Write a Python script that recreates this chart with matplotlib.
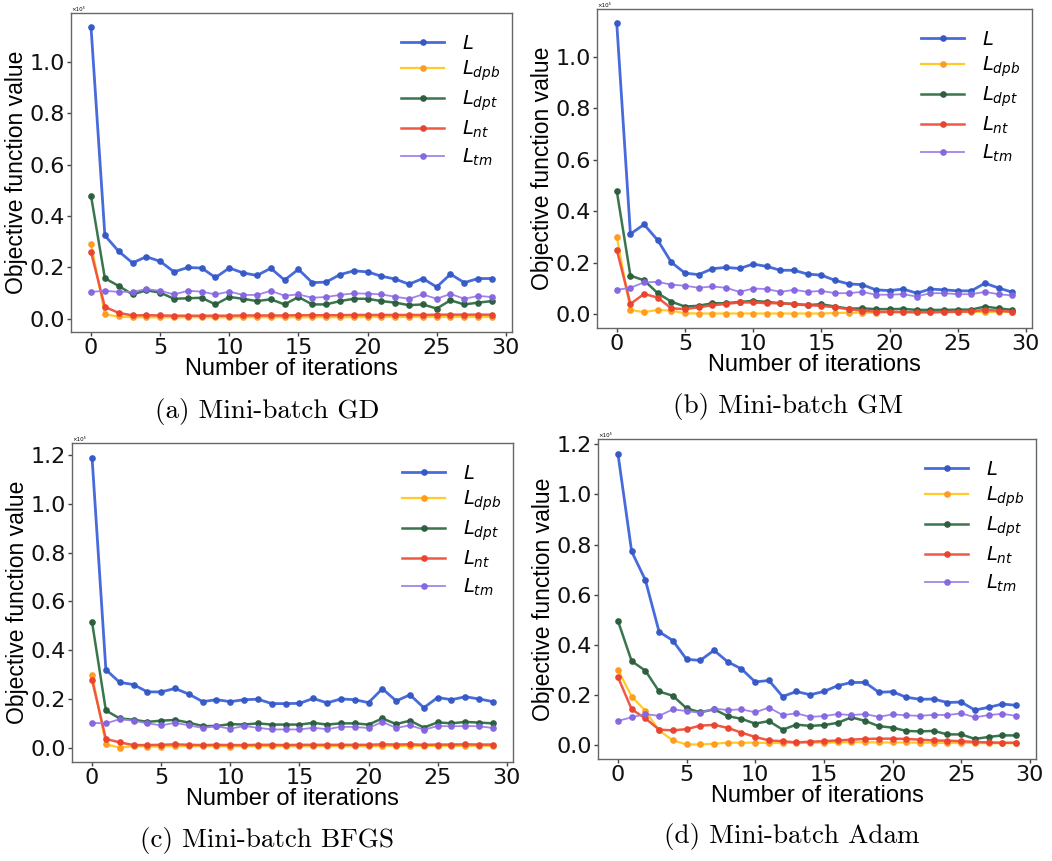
import matplotlib
matplotlib.use("Agg")
import matplotlib.pyplot as plt
import numpy as np

iterations = list(range(30))
series_names = [r"$L$", r"$L_{dpb}$", r"$L_{dpt}$", r"$L_{nt}$", r"$L_{tm}$"]
captions = ["(a) Mini-batch GD", "(b) Mini-batch GM", "(c) Mini-batch BFGS", "(d) Mini-batch Adam"]

# (a) Mini-batch GD
gd_L = [1.135, 0.324, 0.262, 0.217, 0.241, 0.223, 0.182, 0.199, 0.197, 0.160,
        0.197, 0.178, 0.168, 0.196, 0.150, 0.192, 0.140, 0.142, 0.171, 0.186,
        0.182, 0.165, 0.154, 0.134, 0.156, 0.123, 0.173, 0.140, 0.156, 0.156]
gd_dpb = [0.291, 0.016, 0.008, 0.005, 0.005, 0.005, 0.004, 0.005, 0.005, 0.004,
          0.005, 0.005, 0.005, 0.005, 0.005, 0.005, 0.005, 0.005, 0.005, 0.005,
          0.006, 0.006, 0.006, 0.006, 0.006, 0.006, 0.006, 0.006, 0.006, 0.006]
gd_dpt = [0.478, 0.157, 0.127, 0.094, 0.110, 0.101, 0.077, 0.079, 0.081, 0.055,
          0.084, 0.077, 0.068, 0.075, 0.055, 0.084, 0.055, 0.055, 0.068, 0.077,
          0.077, 0.068, 0.062, 0.052, 0.055, 0.039, 0.071, 0.055, 0.062, 0.068]
gd_nt = [0.259, 0.045, 0.022, 0.012, 0.013, 0.012, 0.011, 0.011, 0.011, 0.011,
         0.011, 0.012, 0.012, 0.012, 0.012, 0.013, 0.013, 0.013, 0.013, 0.014,
         0.014, 0.014, 0.014, 0.014, 0.014, 0.015, 0.015, 0.015, 0.015, 0.015]
gd_tm = [0.104, 0.108, 0.104, 0.104, 0.115, 0.108, 0.094, 0.108, 0.105, 0.094,
         0.105, 0.092, 0.092, 0.108, 0.089, 0.094, 0.081, 0.084, 0.092, 0.098,
         0.097, 0.094, 0.085, 0.077, 0.094, 0.077, 0.096, 0.077, 0.088, 0.084]

# (b) Mini-batch GM
gm_L = [1.130, 0.312, 0.349, 0.288, 0.202, 0.160, 0.154, 0.177, 0.182, 0.178,
        0.195, 0.186, 0.171, 0.171, 0.156, 0.152, 0.132, 0.118, 0.115, 0.095,
        0.092, 0.098, 0.082, 0.098, 0.095, 0.091, 0.091, 0.121, 0.102, 0.086]
gm_dpb = [0.301, 0.017, 0.008, 0.017, 0.014, 0.004, 0.003, 0.003, 0.003, 0.003,
          0.003, 0.003, 0.003, 0.003, 0.003, 0.003, 0.005, 0.006, 0.006, 0.006,
          0.007, 0.007, 0.007, 0.008, 0.008, 0.008, 0.009, 0.009, 0.010, 0.010]
gm_dpt = [0.479, 0.150, 0.132, 0.082, 0.049, 0.030, 0.033, 0.043, 0.043, 0.048,
          0.052, 0.048, 0.043, 0.040, 0.036, 0.039, 0.030, 0.022, 0.023, 0.020,
          0.020, 0.021, 0.017, 0.017, 0.017, 0.018, 0.018, 0.030, 0.023, 0.017]
gm_nt = [0.251, 0.040, 0.079, 0.065, 0.023, 0.020, 0.027, 0.035, 0.040, 0.046,
         0.046, 0.043, 0.043, 0.039, 0.035, 0.033, 0.027, 0.020, 0.014, 0.010,
         0.010, 0.009, 0.008, 0.008, 0.009, 0.010, 0.011, 0.017, 0.014, 0.009]
gm_tm = [0.095, 0.103, 0.124, 0.126, 0.115, 0.111, 0.103, 0.108, 0.103, 0.087,
         0.100, 0.098, 0.087, 0.095, 0.087, 0.091, 0.082, 0.082, 0.087, 0.076,
         0.076, 0.078, 0.069, 0.082, 0.082, 0.078, 0.078, 0.087, 0.078, 0.073]

# (c) Mini-batch BFGS
bfgs_L = [1.190, 0.320, 0.268, 0.259, 0.229, 0.229, 0.243, 0.220, 0.189, 0.197,
          0.189, 0.197, 0.199, 0.181, 0.181, 0.182, 0.202, 0.184, 0.200, 0.197,
          0.185, 0.242, 0.192, 0.217, 0.164, 0.206, 0.197, 0.209, 0.200, 0.189]
bfgs_dpb = [0.300, 0.014, 0.001, 0.006, 0.005, 0.005, 0.006, 0.006, 0.006, 0.006,
            0.005, 0.006, 0.006, 0.006, 0.006, 0.006, 0.006, 0.006, 0.006, 0.006,
            0.006, 0.007, 0.007, 0.007, 0.007, 0.007, 0.007, 0.008, 0.008, 0.008]
bfgs_dpt = [0.515, 0.153, 0.120, 0.115, 0.106, 0.111, 0.114, 0.103, 0.089, 0.089,
            0.097, 0.095, 0.100, 0.095, 0.095, 0.095, 0.102, 0.095, 0.100, 0.100,
            0.095, 0.120, 0.097, 0.111, 0.083, 0.104, 0.100, 0.106, 0.103, 0.100]
bfgs_nt = [0.278, 0.036, 0.022, 0.011, 0.011, 0.012, 0.014, 0.012, 0.011, 0.012,
           0.011, 0.011, 0.012, 0.012, 0.011, 0.012, 0.012, 0.012, 0.012, 0.012,
           0.012, 0.014, 0.013, 0.014, 0.012, 0.013, 0.013, 0.014, 0.013, 0.013]
bfgs_tm = [0.102, 0.100, 0.117, 0.111, 0.100, 0.092, 0.102, 0.092, 0.081, 0.088,
           0.078, 0.089, 0.082, 0.075, 0.075, 0.075, 0.082, 0.076, 0.086, 0.085,
           0.081, 0.106, 0.081, 0.092, 0.074, 0.089, 0.088, 0.089, 0.088, 0.081]

# (d) Mini-batch Adam
adam_L = [1.163, 0.773, 0.659, 0.453, 0.418, 0.343, 0.339, 0.379, 0.333, 0.305,
          0.253, 0.259, 0.195, 0.215, 0.202, 0.215, 0.238, 0.251, 0.251, 0.212,
          0.214, 0.192, 0.184, 0.185, 0.171, 0.173, 0.141, 0.152, 0.165, 0.160]
adam_dpb = [0.302, 0.195, 0.138, 0.060, 0.020, 0.004, 0.004, 0.007, 0.011, 0.011,
            0.011, 0.010, 0.010, 0.010, 0.011, 0.011, 0.012, 0.013, 0.013, 0.012,
            0.012, 0.012, 0.011, 0.011, 0.010, 0.010, 0.010, 0.009, 0.009, 0.009]
adam_dpt = [0.497, 0.336, 0.298, 0.215, 0.198, 0.148, 0.132, 0.144, 0.117, 0.106,
            0.087, 0.097, 0.063, 0.083, 0.078, 0.081, 0.090, 0.112, 0.098, 0.077,
            0.071, 0.058, 0.056, 0.058, 0.044, 0.044, 0.026, 0.034, 0.040, 0.040]
adam_nt = [0.273, 0.144, 0.108, 0.063, 0.060, 0.065, 0.079, 0.082, 0.070, 0.051,
           0.034, 0.020, 0.017, 0.012, 0.015, 0.017, 0.020, 0.023, 0.026, 0.027,
           0.027, 0.026, 0.023, 0.020, 0.019, 0.017, 0.014, 0.012, 0.011, 0.011]
adam_tm = [0.098, 0.112, 0.125, 0.118, 0.144, 0.137, 0.130, 0.147, 0.141, 0.144,
           0.132, 0.151, 0.121, 0.128, 0.114, 0.117, 0.125, 0.121, 0.125, 0.114,
           0.124, 0.120, 0.118, 0.122, 0.121, 0.128, 0.112, 0.121, 0.126, 0.118]

panels = [
    [gd_L, gd_dpb, gd_dpt, gd_nt, gd_tm],
    [gm_L, gm_dpb, gm_dpt, gm_nt, gm_tm],
    [bfgs_L, bfgs_dpb, bfgs_dpt, bfgs_nt, bfgs_tm],
    [adam_L, adam_dpb, adam_dpt, adam_nt, adam_tm],
]

line_colors = ["#3d63d8", "#ffc81e", "#2f6e44", "#f0503c", "#9a7fe8"]
marker_colors = ["#3558c4", "#ff9a1e", "#2a5e3c", "#e8432f", "#8466e0"]
line_widths = [2.0, 1.6, 1.8, 1.8, 1.3]

W, H = 1052, 861
fig = plt.figure(figsize=(W / 100, H / 100), dpi=100)

ax_px = [(71, 13, 512, 332), (597, 9, 1032, 328), (72, 443, 513, 762), (598, 439, 1036, 759)]
cap_px = [(267, 411), (788, 407), (267, 840), (792, 836)]

label_font = "Liberation Sans"

for k, (vals, (l, t, r, b)) in enumerate(zip(panels, ax_px)):
    aw, ah = r - l, b - t
    ax = fig.add_axes([l / W, 1 - b / H, aw / W, ah / H])
    for i, name in enumerate(series_names):
        ax.plot(iterations, vals[i], color=line_colors[i], lw=line_widths[i],
                marker="o", ms=3.8, mfc=marker_colors[i], mec=marker_colors[i],
                label=name, alpha=0.95)
    ax.set_xticks([0, 5, 10, 15, 20, 25, 30])
    if k < 2:
        ax.set_yticks([0.0, 0.2, 0.4, 0.6, 0.8, 1.0])
    else:
        ax.set_yticks([0.0, 0.2, 0.4, 0.6, 0.8, 1.0, 1.2])
    ax.yaxis.set_major_formatter(matplotlib.ticker.FormatStrFormatter("%.1f"))
    ax.tick_params(labelsize=16, width=1.0, length=3, pad=1.5, color="#444444",
                   labelcolor="#111111")
    for s in ax.spines.values():
        s.set_color("#666666")
        s.set_linewidth(1.0)
    ax.set_xlabel("Number of iterations", fontsize=17, family=label_font)
    ax.set_ylabel("Objective function value", fontsize=16.5, family=label_font)
    ax.xaxis.set_label_coords(0.5, -26 / ah)
    ax.yaxis.set_label_coords(-43 / aw, 0.5)
    ax.text(0.0, 1.004, "\u00d710\u2075", transform=ax.transAxes, fontsize=4,
            ha="left", va="bottom")
    leg = ax.legend(loc="upper right", frameon=False, fontsize=14, handlelength=2.2,
                    labelspacing=0.3, borderaxespad=0.5, handletextpad=0.9,
                    bbox_to_anchor=(1.012, 0.99))
    cx, cy = cap_px[k]
    fig.text(cx / W, 1 - cy / H, captions[k], family="cmr10", fontsize=19.5,
             ha="center", va="center")

fig.savefig("out.png", dpi=100)
